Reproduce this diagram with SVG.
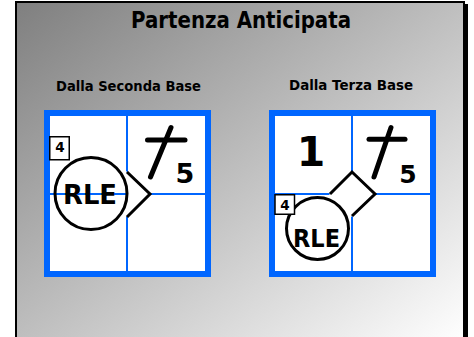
<svg xmlns="http://www.w3.org/2000/svg" width="474" height="337" viewBox="0 0 474 337">
<defs>
<linearGradient id="bg" x1="0" y1="0" x2="1" y2="1">
<stop offset="0" stop-color="#7f7f7f"/>
<stop offset="1" stop-color="#ffffff"/>
</linearGradient>
</defs>
<style>
.t{font-family:"DejaVu Sans","Verdana",sans-serif;font-weight:bold;fill:#000;text-anchor:middle}
.box{fill:#fff;stroke:#0066ff;stroke-width:6}
.div{stroke:#0066ff;stroke-width:2;fill:none}
.ink{stroke:#000;fill:none}
.tag{fill:#fff;stroke:#000;stroke-width:1.5}
</style>
<rect x="465" y="4" width="3" height="340" fill="#000"/>
<rect x="16" y="2" width="448" height="340" fill="url(#bg)" stroke="#000" stroke-width="2"/>
<text class="t" x="241" y="28" font-size="22.5" textLength="220" lengthAdjust="spacingAndGlyphs">Partenza Anticipata</text>
<text class="t" x="128.5" y="91" font-size="14.5" textLength="145" lengthAdjust="spacingAndGlyphs">Dalla Seconda Base</text>
<text class="t" x="351" y="90" font-size="14.5" textLength="124" lengthAdjust="spacingAndGlyphs">Dalla Terza Base</text>

<g id="seconda">
<rect class="box" x="47" y="113" width="161" height="161"/>
<g class="connectors">
<line class="div" x1="127" y1="116" x2="127" y2="271"/>
<line class="div" x1="50" y1="194" x2="205" y2="194"/>
</g>
<polygon points="126,171 150,194 126,217" fill="#fff"/>
<polyline class="ink" stroke-width="3" points="127,172 150,194 127,217"/>
<rect class="tag" x="49.75" y="136.75" width="19.5" height="23"/>
<text class="t" x="60" y="152" font-size="13.5">4</text>
<circle class="ink" cx="91" cy="193.5" r="36" stroke-width="3"/>
<text class="t" x="90" y="203.5" font-size="26" textLength="54" lengthAdjust="spacingAndGlyphs">RLE</text>
<line class="ink" stroke-width="5" stroke-linecap="round" x1="147.5" y1="140" x2="185" y2="140"/>
<line class="ink" stroke-width="5" stroke-linecap="round" x1="171" y1="127.5" x2="150.5" y2="177"/>
<text class="t" x="185" y="183" font-size="27">5</text>
</g>

<g id="terza">
<rect class="box" x="272" y="113" width="161" height="161"/>
<g class="connectors">
<line class="div" x1="352" y1="116" x2="352" y2="271"/>
<line class="div" x1="275" y1="194" x2="430" y2="194"/>
</g>
<polygon points="352,171 375,194 352,217 329,194" fill="#fff"/>
<polyline class="ink" stroke-width="3" points="330,194 352,172 375,194 352,216"/>
<circle cx="317.5" cy="228.5" r="31" fill="#fff" stroke="#000" stroke-width="3"/>
<rect class="tag" x="275" y="194.75" width="19.5" height="19.5"/>
<text class="t" x="285" y="210" font-size="13.5">4</text>
<text class="t" x="316.5" y="246.5" font-size="24" textLength="47" lengthAdjust="spacingAndGlyphs">RLE</text>
<text class="t" x="311" y="166" font-size="41">1</text>
<line class="ink" stroke-width="5" stroke-linecap="round" x1="369" y1="139.3" x2="405" y2="139.3"/>
<line class="ink" stroke-width="5" stroke-linecap="round" x1="391" y1="127.5" x2="374" y2="177"/>
<text class="t" x="408" y="183" font-size="25">5</text>
</g>
</svg>
